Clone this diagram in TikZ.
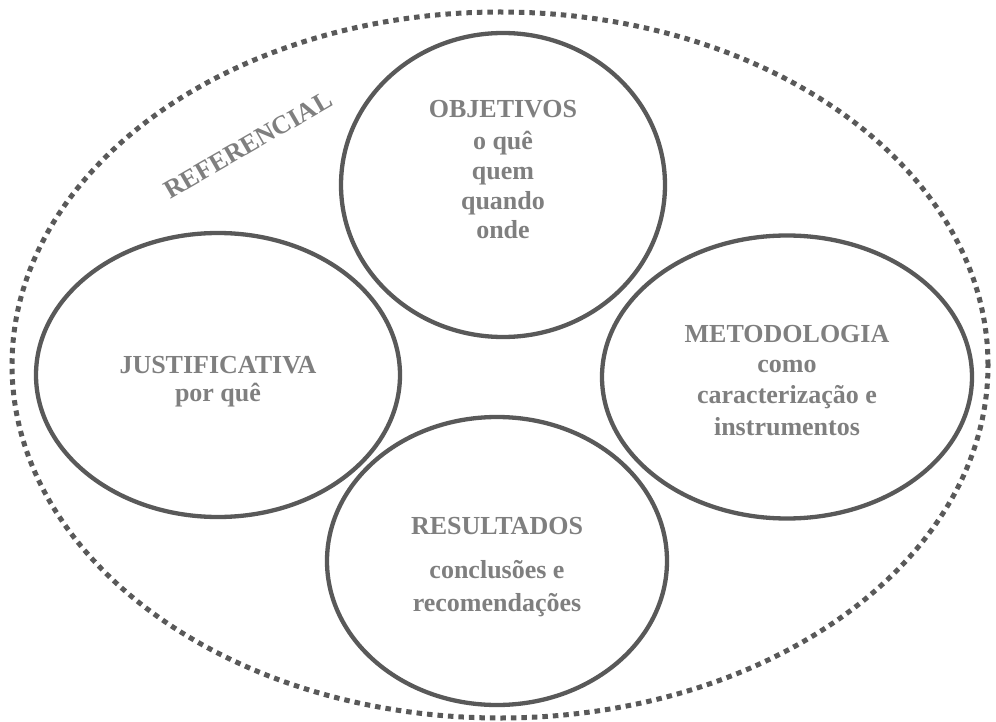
\documentclass[tikz,border=0pt]{standalone}
\usepackage{fontspec}
\setmainfont{Liberation Serif}
\usetikzlibrary{shapes.geometric}
\definecolor{ringcol}{HTML}{595959}
\definecolor{txtcol}{HTML}{7F7F7F}
\newcommand{\lblfont}{\fontsize{26}{28}\selectfont\bfseries\lineskiplimit=-100pt\relax}
\tikzset{
  ring/.style={ellipse, draw=ringcol, line width=4.3pt, inner sep=0pt, outer sep=0pt},
  outerring/.style={ellipse, draw=ringcol, line width=5pt, dash pattern=on 5.5pt off 5pt, inner sep=0pt, outer sep=0pt},
  lbl/.style={text=txtcol, align=center, inner sep=0pt, anchor=base, font=\lblfont}
}
\begin{document}
\begin{tikzpicture}[x=1pt,y=-1pt]
\useasboundingbox (0,0) rectangle (996,722);
% outer dotted boundary
\node[outerring, minimum width=976pt, minimum height=706pt] (ref) at (500,365) {};
% circles
\node[ring, minimum width=324pt, minimum height=304pt] (obj) at (503,185) {};
\node[ring, minimum width=364pt, minimum height=284pt] (jus) at (218,375) {};
\node[ring, minimum width=370pt, minimum height=283pt] (met) at (787,377) {};
\node[ring, minimum width=340pt, minimum height=288pt] (res) at (497,561) {};
% REFERENCIAL label
\node[text=txtcol, font=\fontsize{26}{31}\selectfont\bfseries, inner sep=0pt, rotate=30] (reflbl) at (248,145) {REFERENCIAL};
% texts (anchor = baseline of last line)
\node[lbl] (objtxt) at (503,239) {OBJETIVOS\\[4pt]o quê\\[2pt]quem\\[2pt]quando\\[1pt]onde};
\node[lbl] (justxt) at (218,401) {JUSTIFICATIVA\\por quê};
\node[lbl] (mettxt) at (787,435) {METODOLOGIA\\[2pt]como\\[3pt]caracterização e\\[4pt]instrumentos};
\node[lbl] (restxt) at (497,611) {RESULTADOS\\[16pt]conclusões e\\[5pt]recomendações};
\end{tikzpicture}
\end{document}
